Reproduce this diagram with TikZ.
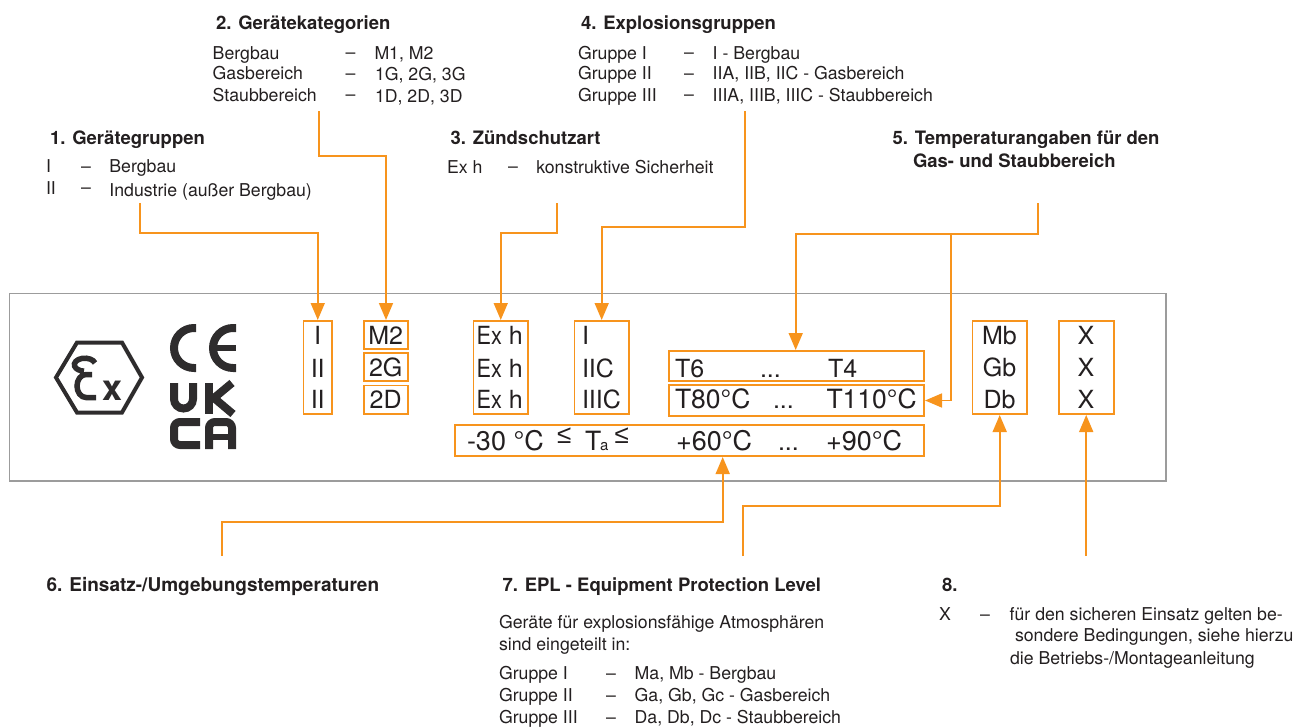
\documentclass[tikz,border=0pt]{standalone}
\usepackage{fontspec}
\setmainfont{TeX Gyre Heros}
\newfontfamily\symfont{Liberation Sans}
\usetikzlibrary{arrows.meta}
\definecolor{org}{HTML}{F7941D}
\definecolor{ink}{HTML}{231F20}
\definecolor{plategray}{HTML}{9C9C9C}
\definecolor{logoink}{HTML}{2E2C2D}
\tikzset{
  lab/.style={anchor=base west,inner sep=0pt,outer sep=0pt,text=ink,font=\fontsize{17.7}{20}\selectfont},
  head/.style={lab,font=\fontsize{18.5}{21}\selectfont\bfseries},
  big/.style={anchor=base west,inner sep=0pt,outer sep=0pt,text=ink,font=\fontsize{25}{30}\selectfont},
  bigd/.style={big,font=\fontsize{26.5}{30}\selectfont},
  bige/.style={big,font=\fontsize{27}{30}\selectfont},
  bigc/.style={big,anchor=base},
  leq/.style={big,font=\fontsize{26}{30}\selectfont\symfont},
  orbox/.style={draw=org,line width=1.6pt,inner sep=0pt,outer sep=0pt,rectangle},
  conn/.style={draw=org,line width=1.7pt,-{Triangle[width=14pt,length=17pt]},shorten >=1pt},
  logo/.style={draw=logoink,line width=8pt},
}
\newcommand{\bx}[5]{\node[orbox,minimum width={#4-#2},minimum height={#5-#3}] (#1) at ({(#2+#4)/2},{(#3+#5)/2}) {};}
\newcommand{\exh}{\scalebox{.87}[1]{Ex}\kern 7pt h}
\begin{document}
\begin{tikzpicture}[x=1pt,y=-1pt]
\useasboundingbox (0,0) rectangle (1298,727);
% plate
\draw[plategray,line width=1.2pt] (9.5,293.5) rectangle (1166,481);
% Ex logo
\draw[logoink,line width=4pt,line join=miter] (56,377.5)--(77,342.5)--(122,342.5)--(142,377.5)--(122,412.5)--(77,412.5)--cycle;
\draw[logoink,line width=5.5pt] (95,363) arc[start angle=15,end angle=265,x radius=10.5pt,y radius=6.5pt]
  (92,374.5) -- (86,374.5) arc[start angle=90,end angle=270,x radius=9pt,y radius=11.5pt] -- (96,397.5);
\node[anchor=base,inner sep=0pt,text=logoink,font=\fontsize{36}{36}\selectfont\bfseries] (exx) at (112.5,400) {x};
% CE
\draw[logo] (196,328) -- (194,328) arc[start angle=90,end angle=270,radius=20pt] -- (196,368);
\draw[logo] (236,328) -- (233,328) arc[start angle=90,end angle=270,radius=20pt] -- (236,368);
\draw[logoink,line width=6pt] (213,348)--(236,348);
% UK CA
\draw[logo] (174,383) -- (174,399) arc[start angle=180,end angle=360,radius=9.5pt] -- (193,383);
\draw[logo] (209,383)--(209,414);
\draw[logoink,line width=8pt] (232,383)--(214,398)--(233,414);
\draw[logo,rounded corners=6pt] (200,422)--(174,422)--(174,445)--(200,445);
\draw[logo,rounded corners=6pt] (209,449)--(209,422)--(232,422)--(232,449);
\draw[logoink,line width=6pt] (209,437)--(232,437);
% orange boxes
\bx{bI}{303.5}{321}{332}{414}
\bx{bMa}{364}{321}{408}{349}
\bx{bGa}{364}{353}{408}{381}
\bx{bDa}{364}{385.5}{408}{414}
\bx{bEx}{473.5}{321}{528}{414}
\bx{bGr}{574.4}{321}{629}{414}
\bx{bTa}{669}{351}{924}{381}
\bx{bTb}{669}{385}{924}{416}
\bx{bAmb}{455}{425}{924}{456}
\bx{bEpl}{972.4}{321}{1027}{414}
\bx{bX}{1059}{321}{1114}{414}
% plate text
\node[bigc] (p1) at (317.7,344) {I};
\node[bigc] (p2) at (317.7,377) {II};
\node[bigc] (p3) at (317.7,408) {II};
\node[bigc] (p4) at (385.7,344) {M2};
\node[bigc] (p5) at (385.7,376.5) {2G};
\node[bigc] (p6) at (385.7,408) {2D};
\node[big] (p7) at (476.5,344) {\exh};
\node[big] (p8) at (476.5,377) {\exh};
\node[big] (p9) at (476.5,408) {\exh};
\node[big] (p10) at (582,344) {I};
\node[big] (p11) at (582,377) {IIC};
\node[big] (p12) at (582,408) {IIIC};
\node[big] (p13) at (675,377) {T6};
\node[big] (p14) at (760,377) {...};
\node[big] (p15) at (828,377) {T4};
\node[bigd] (p16) at (675,408) {T80°C};
\node[big] (p17) at (773,408) {...};
\node[bigd] (p18) at (826.5,408) {T110°C};
\node[bige] (p19) at (467,450) {-30 °C};
\node[leq] (p20) at (557,443) {≤};
\node[bigd] (p21) at (585,450) {T};
\node[big,font=\fontsize{15}{18}\selectfont] (p22) at (600,450) {a};
\node[leq] (p23) at (614.5,443) {≤};
\node[bige] (p24) at (676,450) {+60°C};
\node[big] (p25) at (778,450) {...};
\node[bige] (p26) at (826,450) {+90°C};
\node[bigc] (p27) at (999.5,344) {Mb};
\node[bigc] (p28) at (999.5,376.5) {Gb};
\node[bigc] (p29) at (999.5,408) {Db};
\node[bigc] (p30) at (1086,344) {X};
\node[bigc] (p31) at (1086,376.5) {X};
\node[bigc] (p32) at (1086,408) {X};
% section 1
\node[head] (a0) at (50,145) {1. Gerätegruppen};
\node[lab] (a1) at (46,173) {I};
\node[lab] (a2) at (81,173) {–};
\node[lab] (a3) at (109.4,173) {Bergbau};
\node[lab] (a4) at (46,195) {II};
\node[lab] (a5) at (81,194) {–};
\node[lab] (a6) at (109.4,197) {Industrie (außer Bergbau)};
% section 2
\node[head] (b0) at (216,30) {2. Gerätekategorien};
\node[lab] (b1) at (212.7,59.3) {Bergbau};
\node[lab] (b2) at (345.5,59) {–};
\node[lab] (b3) at (374.5,59.3) {M1, M2};
\node[lab] (b4) at (212.7,80) {Gasbereich};
\node[lab] (b5) at (345.5,79.5) {–};
\node[lab] (b6) at (375,81) {1G, 2G, 3G};
\node[lab] (b7) at (212.7,101.7) {Staubbereich};
\node[lab] (b8) at (345.5,100.5) {–};
\node[lab] (b9) at (375,103) {1D, 2D, 3D};
% section 3
\node[head] (c0) at (450.5,145) {3. Zündschutzart};
\node[lab] (c1) at (447,173.3) {Ex h};
\node[lab] (c2) at (508,173) {–};
\node[lab] (c3) at (536.3,173.3) {konstruktive Sicherheit};
% section 4
\node[head] (d0) at (581,30) {4. Explosionsgruppen};
\node[lab] (d1) at (578,59.3) {Gruppe I};
\node[lab] (d2) at (684,59) {–};
\node[lab] (d3) at (712.7,59.3) {I - Bergbau};
\node[lab] (d4) at (578,80) {Gruppe II};
\node[lab] (d5) at (684,79.5) {–};
\node[lab] (d6) at (712.7,80) {IIA, IIB, IIC - Gasbereich};
\node[lab] (d7) at (578,101.7) {Gruppe III};
\node[lab] (d8) at (684,101) {–};
\node[lab] (d9) at (712.7,101.7) {IIIA, IIIB, IIIC - Staubbereich};
% section 5
\node[head] (e0) at (892.5,145) {5. Temperaturangaben für den};
\node[head] (e1) at (913,167.3) {Gas- und Staubbereich};
% section 6
\node[head,font=\fontsize{19}{21}\selectfont\bfseries] (f0) at (46.5,591) {6. Einsatz-/Umgebungstemperaturen};
% section 7
\node[head] (g0) at (502.5,591) {7. EPL - Equipment Protection Level};
\node[lab] (g1) at (499,628.3) {Geräte für explosionsfähige Atmosphären};
\node[lab] (g2) at (499,650.7) {sind eingeteilt in:};
\node[lab] (g3) at (499,679) {Gruppe I};
\node[lab] (g4) at (606,679) {–};
\node[lab] (g5) at (634.7,679) {Ma, Mb - Bergbau};
\node[lab] (g6) at (499,701) {Gruppe II};
\node[lab] (g7) at (606,701) {–};
\node[lab] (g8) at (634.7,701) {Ga, Gb, Gc - Gasbereich};
\node[lab] (g9) at (499,723.3) {Gruppe III};
\node[lab] (g10) at (606,723.3) {–};
\node[lab] (g11) at (634.7,723.3) {Da, Db, Dc - Staubbereich};
% section 8
\node[head] (h0) at (942,591) {8.};
\node[lab] (h1) at (939,620) {X};
\node[lab] (h2) at (980,620) {–};
\node[lab] (h3) at (1009.7,620) {für den sicheren Einsatz gelten be-};
\node[lab] (h4) at (1015,641.7) {sondere Bedingungen, siehe hierzu};
\node[lab] (h5) at (1010,664) {die Betriebs-/Montageanleitung};
% connectors
\coordinate (s1) at (140.2,203);
\coordinate (s2) at (318.7,111.5);
\coordinate (s3) at (557.3,203.3);
\coordinate (s4) at (745.2,111.5);
\coordinate (s5) at (1037.7,203.3);
\coordinate (s6) at (221.7,556);
\coordinate (s7) at (743.2,556);
\coordinate (s8) at (1086.2,556);
\coordinate (j5) at (950.7,234);
\draw[conn] (s1) -- (140.2,232.7) -| (bI.north);
\draw[conn] (s2) -- (318.7,156) -| (bMa.north);
\draw[conn] (s3) -- (557.3,233.3) -| (bEx.north);
\draw[conn] (s4) -- (745.2,227.3) -| (bGr.north);
\draw[conn] (s5) -- (1037.7,234) -| ([xshift=126.7pt]bTa.north west);
\draw[conn] (j5) |- (bTb.east);
\draw[conn] (s6) -- (221.7,522) -| ([xshift=267.7pt]bAmb.south west);
\draw[conn] (s7) -- (743.2,506) -| (bEpl.south);
\draw[conn] (s8) -- (s8 |- bX.south);
\end{tikzpicture}
\end{document}
